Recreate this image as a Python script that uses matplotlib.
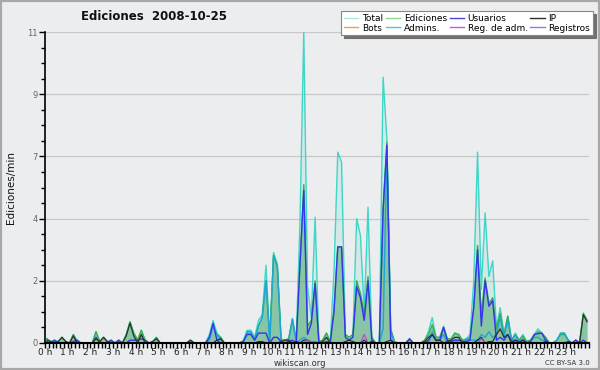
import matplotlib
matplotlib.use("Agg")
import matplotlib.pyplot as plt
from matplotlib.lines import Line2D
from matplotlib.patches import Rectangle
import numpy as np

# 10-minute bins, one row per hour (6 values)
total = [
    0.15, 0.05, 0.1, 0.05, 0.2, 0.05,
    0.0, 0.3, 0.1, 0.0, 0.0, 0.0,
    0.0, 0.4, 0.05, 0.2, 0.05, 0.1,
    0.0, 0.1, 0.0, 0.3, 0.75, 0.35,
    0.1, 0.45, 0.1, 0.0, 0.05, 0.2,
    0.0, 0.0, 0.0, 0.0, 0.0, 0.0,
    0.0, 0.0, 0.1, 0.0, 0.0, 0.0,
    0.0, 0.3, 0.8, 0.35, 0.2, 0.0,
    0.0, 0.0, 0.0, 0.0, 0.1, 0.45,
    0.45, 0.2, 0.8, 1.0, 2.75, 0.1,
    3.2, 2.8, 0.15, 0.1, 0.15, 0.87,
    0.1, 4.3, 11.0, 2.0, 0.9, 4.45,
    0.05, 0.1, 0.35, 0.05, 2.5, 6.75,
    6.4, 0.3, 0.2, 0.3, 4.4, 3.8,
    1.1, 4.8, 0.2, 0.0, 0.0, 9.4,
    7.2, 0.5, 0.05, 0.0, 0.0, 0.0,
    0.15, 0.0, 0.0, 0.0, 0.1, 0.4,
    0.9, 0.2, 0.2, 0.6, 0.15, 0.15,
    0.35, 0.3, 0.1, 0.15, 0.3, 2.2,
    6.75, 1.9, 4.6, 2.35, 2.9, 0.55,
    1.25, 0.3, 0.95, 0.1, 0.35, 0.1,
    0.3, 0.05, 0.1, 0.3, 0.5, 0.35,
    0.2, 0.0, 0.0, 0.1, 0.35, 0.35,
    0.1, 0.0, 0.1, 0.0, 1.05, 0.8,
]
ediciones = [
    0.15, 0.05, 0.05, 0.05, 0.2, 0.05,
    0.0, 0.3, 0.05, 0.0, 0.0, 0.0,
    0.0, 0.4, 0.05, 0.2, 0.05, 0.05,
    0.0, 0.05, 0.0, 0.3, 0.75, 0.35,
    0.1, 0.45, 0.1, 0.0, 0.05, 0.2,
    0.0, 0.0, 0.0, 0.0, 0.0, 0.0,
    0.0, 0.0, 0.1, 0.0, 0.0, 0.0,
    0.0, 0.2, 0.6, 0.3, 0.2, 0.0,
    0.0, 0.0, 0.0, 0.0, 0.05, 0.35,
    0.35, 0.15, 0.6, 0.9, 2.2, 0.1,
    3.1, 2.7, 0.1, 0.1, 0.15, 0.8,
    0.1, 2.8, 5.6, 0.6, 0.8, 2.2,
    0.05, 0.1, 0.35, 0.05, 1.2, 3.4,
    3.4, 0.3, 0.2, 0.3, 2.2, 1.75,
    1.0, 2.35, 0.2, 0.0, 0.0, 4.8,
    7.1, 0.5, 0.05, 0.0, 0.0, 0.0,
    0.1, 0.0, 0.0, 0.0, 0.1, 0.3,
    0.65, 0.2, 0.2, 0.55, 0.15, 0.15,
    0.35, 0.3, 0.1, 0.1, 0.2, 1.2,
    3.45, 1.0, 2.3, 1.4, 1.6, 0.5,
    1.05, 0.3, 0.95, 0.1, 0.3, 0.1,
    0.25, 0.05, 0.1, 0.25, 0.4, 0.35,
    0.2, 0.0, 0.0, 0.1, 0.3, 0.3,
    0.1, 0.0, 0.1, 0.0, 1.05, 0.8,
]
usuarios = [
    0.05, 0.0, 0.1, 0.0, 0.0, 0.0,
    0.0, 0.05, 0.1, 0.0, 0.0, 0.0,
    0.0, 0.2, 0.0, 0.0, 0.0, 0.1,
    0.0, 0.1, 0.0, 0.0, 0.1, 0.1,
    0.1, 0.15, 0.1, 0.0, 0.0, 0.0,
    0.0, 0.0, 0.0, 0.0, 0.0, 0.0,
    0.0, 0.0, 0.0, 0.0, 0.0, 0.0,
    0.0, 0.2, 0.7, 0.1, 0.0, 0.0,
    0.0, 0.0, 0.0, 0.0, 0.05, 0.3,
    0.3, 0.1, 0.35, 0.35, 0.35, 0.0,
    0.2, 0.2, 0.05, 0.0, 0.05, 0.1,
    0.0, 2.8, 5.4, 0.3, 0.7, 2.1,
    0.0, 0.0, 0.05, 0.0, 1.1, 3.4,
    3.4, 0.2, 0.1, 0.2, 2.0, 1.6,
    0.8, 2.2, 0.1, 0.0, 0.0, 4.7,
    7.0, 0.1, 0.0, 0.0, 0.0, 0.0,
    0.15, 0.0, 0.0, 0.0, 0.0, 0.1,
    0.3, 0.1, 0.1, 0.55, 0.1, 0.05,
    0.1, 0.1, 0.05, 0.05, 0.1, 1.3,
    3.3, 0.6, 2.2, 1.3, 1.5, 0.1,
    0.2, 0.1, 0.3, 0.05, 0.1, 0.05,
    0.1, 0.0, 0.05, 0.3, 0.33, 0.35,
    0.1, 0.0, 0.0, 0.0, 0.0, 0.0,
    0.0, 0.0, 0.1, 0.0, 0.1, 0.0,
]
ip = [
    0.1, 0.05, 0.0, 0.05, 0.2, 0.05,
    0.0, 0.25, 0.0, 0.0, 0.0, 0.0,
    0.0, 0.15, 0.05, 0.2, 0.05, 0.0,
    0.0, 0.0, 0.0, 0.25, 0.7, 0.25,
    0.0, 0.3, 0.0, 0.0, 0.05, 0.15,
    0.0, 0.0, 0.0, 0.0, 0.0, 0.0,
    0.0, 0.0, 0.1, 0.0, 0.0, 0.0,
    0.0, 0.0, 0.0, 0.1, 0.15, 0.0,
    0.0, 0.0, 0.0, 0.0, 0.0, 0.0,
    0.0, 0.0, 0.05, 0.05, 0.0, 0.0,
    0.0, 0.0, 0.05, 0.1, 0.1, 0.0,
    0.05, 0.0, 0.1, 0.1, 0.0, 0.0,
    0.0, 0.05, 0.2, 0.0, 0.0, 0.0,
    0.0, 0.05, 0.1, 0.05, 0.0, 0.0,
    0.1, 0.0, 0.05, 0.0, 0.0, 0.0,
    0.05, 0.1, 0.0, 0.0, 0.0, 0.0,
    0.0, 0.0, 0.0, 0.0, 0.05, 0.2,
    0.3, 0.1, 0.1, 0.0, 0.05, 0.1,
    0.2, 0.2, 0.0, 0.0, 0.0, 0.0,
    0.1, 0.2, 0.0, 0.05, 0.05, 0.3,
    0.5, 0.2, 0.3, 0.0, 0.1, 0.0,
    0.1, 0.0, 0.0, 0.0, 0.0, 0.0,
    0.05, 0.0, 0.0, 0.0, 0.0, 0.0,
    0.05, 0.0, 0.0, 0.0, 1.0, 0.75,
]
admins = [
    0.0, 0.0, 0.0, 0.0, 0.0, 0.0,
    0.0, 0.0, 0.0, 0.0, 0.0, 0.0,
    0.0, 0.0, 0.0, 0.0, 0.0, 0.0,
    0.0, 0.0, 0.0, 0.0, 0.0, 0.0,
    0.0, 0.0, 0.0, 0.0, 0.0, 0.0,
    0.0, 0.0, 0.0, 0.0, 0.0, 0.0,
    0.0, 0.0, 0.0, 0.0, 0.0, 0.0,
    0.0, 0.1, 0.6, 0.3, 0.1, 0.0,
    0.0, 0.0, 0.0, 0.0, 0.05, 0.4,
    0.4, 0.1, 0.6, 0.9, 2.2, 0.05,
    3.1, 2.7, 0.05, 0.0, 0.1, 0.85,
    0.0, 0.1, 0.2, 0.1, 0.05, 0.05,
    0.0, 0.0, 0.0, 0.0, 0.0, 0.0,
    0.0, 0.0, 0.0, 0.0, 0.0, 0.0,
    0.0, 0.0, 0.0, 0.0, 0.0, 0.5,
    6.9, 0.4, 0.0, 0.0, 0.0, 0.0,
    0.0, 0.0, 0.0, 0.0, 0.0, 0.0,
    0.4, 0.05, 0.1, 0.3, 0.0, 0.0,
    0.1, 0.0, 0.0, 0.15, 0.1, 0.1,
    0.1, 0.3, 0.2, 0.4, 0.2, 0.3,
    0.9, 0.2, 0.8, 0.05, 0.3, 0.0,
    0.15, 0.0, 0.05, 0.2, 0.2, 0.1,
    0.1, 0.0, 0.0, 0.1, 0.35, 0.35,
    0.1, 0.0, 0.0, 0.0, 0.0, 0.0,
]
reg_adm = [0.0] * 144
reg_adm[69] = 0.1
reg_adm[84] = 0.3
reg_adm[115] = 0.15
bots = [0.0] * 144
registros = [0.0] * 144

series_names = ["Total", "Ediciones", "Usuarios", "IP",
                "Bots", "Admins.", "Reg. de adm.", "Registros"]
hour_labels = ["%d h" % h for h in range(24)]
y_tick_values = [0, 2.2, 4.4, 6.6, 8.8, 11]
y_tick_labels = ["0", "2", "4", "7", "9", "11"]

bg = "#ecedef"
c_total = "#3ed6c6"
c_edit = "#3aae48"
c_user = "#3434ee"
c_ip = "#2e2e2e"
c_bots = "#f0a040"
c_admin = "#1ea6d8"
c_regadm = "#c844d8"
c_reg = "#8080f0"

hours = (np.arange(144) + 0.5) / 6.0

fig = plt.figure(figsize=(6, 3.7), dpi=100, facecolor=bg)
ax = fig.add_axes([45 / 600, 27 / 370, 544 / 600, 311 / 370])
ax.set_facecolor(bg)

ax.fill_between(hours, total, color=c_total, alpha=0.15, lw=0)
ax.fill_between(hours, ediciones, color="#2e9a50", alpha=0.45, lw=0)
ax.plot(hours, total, color=c_total, lw=1.0)
ax.plot(hours, ediciones, color=c_edit, lw=1.0)
ax.plot(hours, admins, color=c_admin, lw=1.0)
ax.plot(hours, registros, color=c_reg, lw=1.0)
ax.plot(hours, bots, color=c_bots, lw=1.0)
ax.plot(hours, usuarios, color=c_user, lw=1.0)
ax.plot(hours, ip, color=c_ip, lw=0.9)
ax.plot(hours, reg_adm, color=c_regadm, lw=0.9)

ax.set_xlim(0, 24)
ax.set_ylim(0, 11)
for v in y_tick_values[1:]:
    ax.axhline(v, color="#c8c8c8", lw=0.9, zorder=0)

ax.set_xticks(np.arange(24))
ax.set_xticklabels(hour_labels)
ax.set_xticks(np.arange(0, 24.01, 1 / 6), minor=True)
ax.set_yticks(y_tick_values)
ax.set_yticklabels(y_tick_labels)
ax.set_yticks(np.arange(0, 11.01, 0.55), minor=True)
ax.tick_params(axis="x", which="both", direction="out", length=3.5, width=1,
               color="black", labelsize=6.5, labelcolor="#222222", pad=0)
ax.tick_params(axis="y", which="major", direction="out", length=4, width=1,
               color="black", labelsize=6, labelcolor="#666666", pad=1)
ax.tick_params(axis="y", which="minor", direction="out", length=3, width=1,
               color="black")
for s in ["top", "right"]:
    ax.spines[s].set_visible(False)
ax.spines["left"].set_linewidth(1.2)
ax.spines["bottom"].set_linewidth(1.5)

ax.set_ylabel("Ediciones/min", fontsize=7.5, color="#111111", labelpad=8)

fig.text(154 / 600, 1 - 17 / 370, "Ediciones  2008-10-25", ha="center",
         va="center", fontsize=8.5, fontweight="bold", color="#111111")
fig.text(300 / 600, 1 - 363 / 370, "wikiscan.org", ha="center", va="center",
         fontsize=6, color="#333333")
fig.text(590 / 600, 1 - 363 / 370, "CC BY-SA 3.0", ha="right", va="center",
         fontsize=5, color="#333333")

legend_colors = ["#a8e8e0", "#90d890", "#4848e0", c_ip, c_bots, "#44c8e0",
                 "#d050e0", c_reg]
order = [0, 4, 1, 5, 2, 6, 3, 7]
handles = [Line2D([], [], color=legend_colors[k], lw=1) for k in order]
labels = [series_names[k] for k in order]
leg = fig.legend(handles, labels, ncol=4, loc="upper right",
                 bbox_to_anchor=(593 / 600, 1 - 11 / 370), frameon=True,
                 fontsize=6.5, handlelength=1.6, handletextpad=0.4,
                 columnspacing=0.3, labelspacing=0.1, borderpad=0.3,
                 borderaxespad=0, fancybox=False,
                 shadow={"color": "#707070", "alpha": 1})
leg.get_frame().set_edgecolor("#888888")
leg.get_frame().set_linewidth(0.8)

fig.patches.append(Rectangle((0, 0), 1, 1, transform=fig.transFigure,
                             fill=False, edgecolor="#a8a8a8", lw=3))

fig.savefig("out.png", dpi=100, facecolor=bg)
